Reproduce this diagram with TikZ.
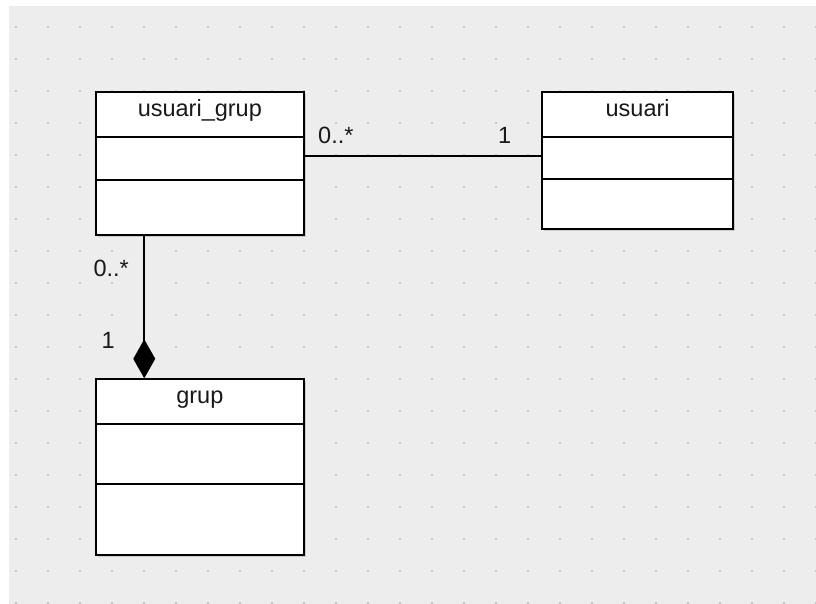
\documentclass[tikz,border=0pt]{standalone}
\usepackage{fontspec}
\setmainfont{Liberation Sans}
\usetikzlibrary{arrows.meta,calc,shadows}
\definecolor{canvasgray}{RGB}{237,237,237}
\definecolor{dotgray}{RGB}{196,196,196}
\begin{document}
\begin{tikzpicture}[x=1pt, y=-1pt,
	classbox/.style={draw, line width=2pt, fill=white, inner sep=0pt, anchor=north west,
		drop shadow={shadow xshift=2pt, shadow yshift=-2pt, opacity=.3}},
	lbl/.style={inner sep=0pt, font=\fontsize{23.5}{28}\selectfont, text=black!90},
	assoc/.style={line width=1.8pt}]
	\useasboundingbox (0,0) rectangle (816,604);
	\fill[canvasgray] (9,6) rectangle (820,610); % Nen
	\foreach \x in {16,48,...,816}{\foreach \y in {27,59,...,604}{\fill[dotgray] (\x-1.3,\y-1.3) rectangle ++(2.6,2.6);}}
	% Cac lop
	\node[classbox, minimum width=207.7, minimum height=143.3] (usuarigrup) at (95,90.7) {};
	\node[classbox, minimum width=191.3, minimum height=137] (usuari) at (541,90.7) {};
	\node[classbox, minimum width=207.7, minimum height=175.4] (grup) at (95,378.3) {};
	\draw[line width=2pt] ($(usuarigrup.north west)+(0,46)$) -- ++(207.7,0) ($(usuarigrup.north west)+(0,89.3)$) -- ++(207.7,0);
	\draw[line width=2pt] ($(usuari.north west)+(0,46)$) -- ++(191.3,0) ($(usuari.north west)+(0,88)$) -- ++(191.3,0);
	\draw[line width=2pt] ($(grup.north west)+(0,45.7)$) -- ++(207.7,0) ($(grup.north west)+(0,106)$) -- ++(207.7,0);
	\node[lbl, anchor=mid] (tusuarigrup) at ($(usuarigrup.north)+(0,23.5)$) {usuari\_grup};
	\node[lbl, anchor=mid] (tusuari) at ($(usuari.north)+(0,23.5)$) {usuari};
	\node[lbl, anchor=mid] (tgrup) at ($(grup.north)+(0,23)$) {grup};
	% Lien ket
	\draw[assoc] ([yshift=7.4pt]usuarigrup.east) -- ([yshift=7.4pt]usuarigrup.east -| usuari.west);
	\draw[assoc, -{Diamond[fill=black, length=39pt, width=22pt]}] ([xshift=-55.6pt]usuarigrup.south) -- ([xshift=-55.6pt]grup.north);
	\node[lbl, anchor=base west] (m1) at (318,144) {0..*};
	\node[lbl, anchor=base west] (m2) at (498,144) {1};
	\node[lbl, anchor=base west] (m3) at (93.3,276.7) {0..*};
	\node[lbl, anchor=base west] (m4) at (101.5,348.3) {1};
\end{tikzpicture}
\end{document}
